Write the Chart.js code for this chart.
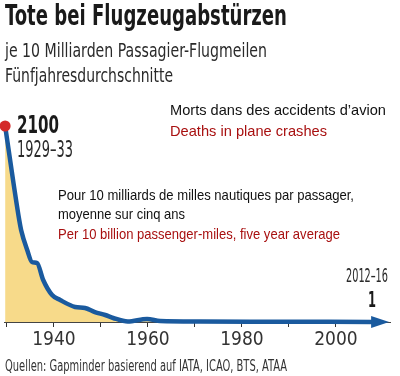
<!DOCTYPE html>
<html>
<head>
<meta charset="utf-8">
<script src="https://cdn.jsdelivr.net/npm/chart.js@4/dist/chart.umd.min.js"></script>
<style>
  html, body { margin:0; padding:0; background:#fff; }
  #wrap { position:relative; width:400px; height:376px; overflow:hidden; background:#fff; }
  #c { position:absolute; left:0; top:0; }
  .t { position:absolute; white-space:nowrap; line-height:1; transform-origin:0 0; }
  .din { font-family:"DejaVu Sans Condensed","DejaVu Sans",sans-serif; font-stretch:condensed; color:#2a2a2a; }
  .ar { font-family:"Liberation Sans",Arial,sans-serif; color:#111; }
  .red { color:#a81010; }
</style>
</head>
<body>
<div id="wrap">
  <canvas id="c" width="400" height="376"></canvas>
  <div class="t din" data-w="282" style="left:5px;top:2px;font-size:28px;font-weight:bold;color:#1a1a1a;">Tote bei Flugzeugabstürzen</div>
  <div class="t din" data-w="262" style="left:5px;top:40px;font-size:20px;">je 10 Milliarden Passagier-Flugmeilen</div>
  <div class="t din" data-w="168" style="left:5px;top:65px;font-size:20px;">Fünfjahresdurchschnitte</div>

  <div class="t din" data-w="42" style="left:17px;top:112px;font-size:25px;font-weight:bold;color:#1a1a1a;">2100</div>
  <div class="t din" data-w="56" style="left:17px;top:138px;font-size:23px;">1929–33</div>

  <div class="t ar" data-w="216" style="left:170px;top:102px;font-size:15px;">Morts dans des accidents d’avion</div>
  <div class="t ar red" data-w="157" style="left:170px;top:123px;font-size:15px;">Deaths in plane crashes</div>

  <div class="t ar" data-w="296" style="left:58px;top:187px;font-size:15px;">Pour 10 milliards de milles nautiques par passager,</div>
  <div class="t ar" data-w="127" style="left:58px;top:206px;font-size:15px;">moyenne sur cinq ans</div>
  <div class="t ar red" data-w="282" style="left:58px;top:226px;font-size:15px;">Per 10 billion passenger-miles, five year average</div>

  <div class="t din" data-w="42" style="left:346px;top:265px;font-size:20px;">2012–16</div>
  <div class="t din" data-w="8" style="left:368px;top:289px;font-size:22px;font-weight:bold;color:#1a1a1a;">1</div>

  <div class="t din" data-w="282" style="left:5px;top:359px;font-size:15px;color:#333;">Quellen: Gapminder basierend auf IATA, ICAO, BTS, ATAA</div>
</div>
<script>
// Data (five-year averages, deaths per 10 bn passenger-miles)
const years  = [1929.6, 1932.6, 1933.0, 1934.3, 1935.3, 1936.4, 1937.7, 1939.6, 1941.3, 1944.5, 1946.6, 1948.7, 1950.9, 1952.6, 1955.7, 1959.8, 1962.6, 1971.1, 1983.8, 2007.7];
const deaths = [2100,   1093,   986,    771,    643,    632,    450,    289,    236,    161,    150,    107,    75,     43,     5,      32,     11,     5,      3,      1];
const tickYears    = [1930, 1940, 1950, 1960, 1970, 1980, 1990, 2000];
const labeledYears = [1940, 1960, 1980, 2000];

const BLUE = '#1a5a9e';
const YELLOW = '#f7da8a';
const RED = '#d42a2a';

function fitTexts() {
  document.querySelectorAll('.t[data-w]').forEach(el => {
    el.style.transform = 'none';
    const w = el.getBoundingClientRect().width;
    const target = parseFloat(el.dataset.w);
    if (w > 0) el.style.transform = 'scaleX(' + (target / w) + ')';
  });
}
fitTexts();
if (document.fonts && document.fonts.ready) document.fonts.ready.then(fitTexts);

const arrowPlugin = {
  id: 'arrowHead',
  afterDatasetsDraw(chart) {
    const meta = chart.getDatasetMeta(0);
    const last = meta.data[meta.data.length - 1];
    const ctx = chart.ctx;
    ctx.save();
    ctx.fillStyle = BLUE;
    ctx.beginPath();
    ctx.moveTo(last.x - 1, last.y - 6);
    ctx.lineTo(last.x + 17, last.y);
    ctx.lineTo(last.x - 1, last.y + 6);
    ctx.closePath();
    ctx.fill();
    const first = meta.data[0];
    ctx.fillStyle = RED;
    ctx.beginPath();
    ctx.arc(first.x, first.y, 5.5, 0, Math.PI * 2);
    ctx.fill();
    ctx.restore();
  }
};

new Chart(document.getElementById('c'), {
  type: 'line',
  data: {
    datasets: [{
      data: years.map((x, i) => ({ x, y: deaths[i] })),
      borderColor: BLUE,
      borderWidth: 4.5,
      backgroundColor: YELLOW,
      fill: 'origin',
      pointRadius: 0,
      cubicInterpolationMode: 'monotone',
      clip: false
    }]
  },
  options: {
    responsive: false,
    animation: false,
    devicePixelRatio: 1,
    layout: { padding: { top: 126, left: 4.65, right: 10, bottom: 24 } },
    plugins: { legend: { display: false }, tooltip: { enabled: false } },
    scales: {
      x: {
        type: 'linear',
        min: 1929.5,
        max: 2011.5,
        afterBuildTicks: s => { s.ticks = tickYears.map(v => ({ value: v })); },
        afterFit: s => { s.height = 30; },
        ticks: {
          autoSkip: false,
          maxRotation: 0,
          padding: 2,
          color: '#333',
          font: { family: '"DejaVu Sans Condensed","DejaVu Sans",sans-serif', size: 19 },
          callback: v => labeledYears.includes(v) ? String(v) : ''
        },
        grid: { drawOnChartArea: false, drawTicks: true, tickLength: 5, color: '#333', lineWidth: 1 },
        border: { display: true, color: '#444', width: 1 }
      },
      y: { display: false, min: 0, max: 2100 }
    }
  },
  plugins: [arrowPlugin]
});
</script>
</body>
</html>
